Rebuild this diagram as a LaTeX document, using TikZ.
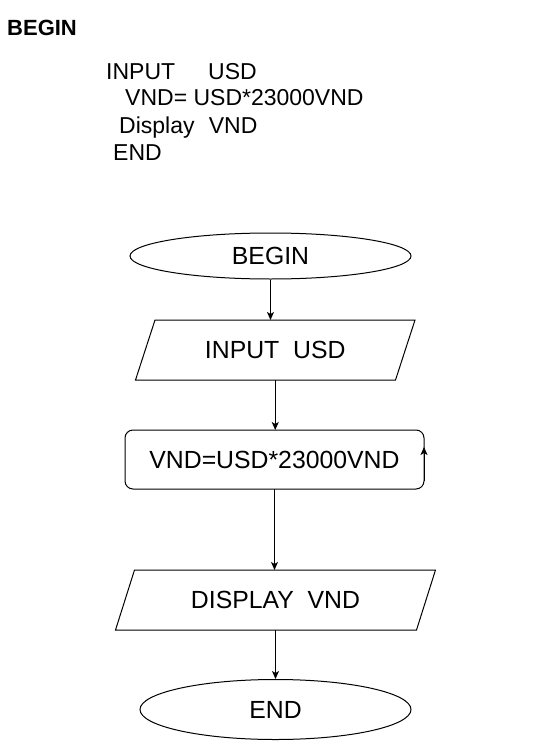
\documentclass[tikz,border=0pt]{standalone}
\usepackage{fontspec}
\setmainfont{Liberation Sans}
\usetikzlibrary{shapes.geometric,arrows.meta,calc}
\begin{document}
\begin{tikzpicture}[x=1pt,y=-1pt,
  every node/.style={inner sep=0pt, font=\fontsize{24.8}{29}\selectfont},
  term/.style={ellipse, draw, line width=1pt},
  procbox/.style={rectangle, draw, rounded corners=8pt, line width=1pt, outer sep=0pt},
  iobox/.style={rectangle, draw=none, outer sep=0pt},
  shapeline/.style={line width=1pt, line join=miter},
  arr/.style={-{Stealth[length=8pt,width=7pt,inset=2pt]}, line width=1pt},
  note/.style={anchor=base west, font=\fontsize{23}{27}\selectfont},
  notebold/.style={anchor=base west, font=\fontsize{22}{26}\selectfont\bfseries}
]
\useasboundingbox (0,0) rectangle (552,741);

% pseudo-code text
\node[notebold] (t0) at (7,35.5) {BEGIN};
\node[note] (t1) at (106,80) {INPUT\hspace{33pt}USD};
\node[note] (t2) at (125,106) {VND= USD*23000VND};
\node[note] (t3) at (119,133) {Display\hspace{14.3pt}VND};
\node[note] (t4) at (113,160) {END};

% flowchart
\node[term, minimum width=281pt, minimum height=46pt] (beg) at (270.5,256) {BEGIN};
\node[iobox, minimum width=260pt, minimum height=60pt] (inp) at (275.25,350) {INPUT\ \ USD};
\draw[shapeline] ($(inp.north west)+(9.75,0)$) -- ($(inp.north east)+(9.75,0)$)
  -- ($(inp.south east)+(-9.75,0)$) -- ($(inp.south west)+(-9.75,0)$) -- cycle;
\node[procbox, minimum width=299pt, minimum height=59pt] (calc) at (274.5,459.5) {VND=USD*23000VND};
\node[iobox, minimum width=301pt, minimum height=60pt] (disp) at (275.5,600) {DISPLAY\ \ VND};
\draw[shapeline] ($(disp.north west)+(9.5,0)$) -- ($(disp.north east)+(9.5,0)$)
  -- ($(disp.south east)+(-9.5,0)$) -- ($(disp.south west)+(-9.5,0)$) -- cycle;
\node[term, minimum width=271pt, minimum height=60pt] (endn) at (275.5,709.5) {END};

% connectors
\draw[arr] (beg.south) -- (beg.south |- inp.north);
\draw[arr] (inp.south) -- (inp.south |- calc.north);
\draw[arr] (calc.south) -- (calc.south |- disp.north);
\draw[arr] (disp.south) -- (disp.south |- endn.north);
\coordinate (looptip) at ($(calc.east)+(0,-12.5)$);
\draw[arr] ($(calc.south east)+(0,-8)$) -- (looptip);
\end{tikzpicture}
\end{document}
